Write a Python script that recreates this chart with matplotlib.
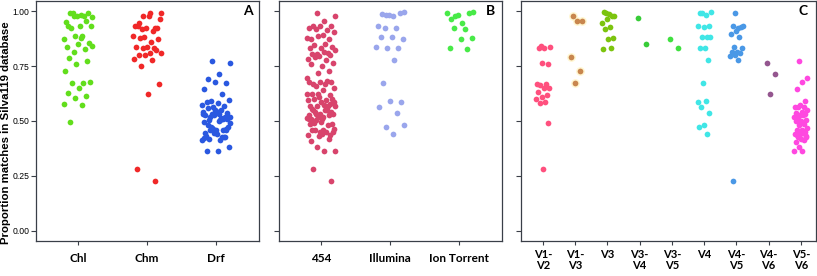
import numpy as np
import matplotlib
matplotlib.use("Agg")
import matplotlib.pyplot as plt

# ---------------- data ----------------
panel_a_cats = ["Chl", "Chm", "Drf"]
chl = [0.979, 0.971, 0.983, 0.989, 0.992, 0.977, 0.951, 0.979, 0.992, 0.932, 0.932, 0.932,
       0.956, 0.886, 0.875, 0.888, 0.921, 0.853, 0.848, 0.837, 0.828, 0.815, 0.839, 0.878,
       0.787, 0.775, 0.761, 0.726, 0.673, 0.673, 0.678, 0.652, 0.628, 0.612, 0.606, 0.578,
       0.574, 0.494]
chm = [0.979, 0.989, 0.989, 0.944, 0.924, 0.921, 0.932, 0.910, 0.916, 0.962, 0.979, 0.932,
       0.924, 0.883, 0.886, 0.860, 0.878, 0.872, 0.837, 0.837, 0.834, 0.834, 0.810, 0.807,
       0.799, 0.825, 0.799, 0.784, 0.777, 0.749, 0.670, 0.625, 0.280, 0.225]
drf = [0.772, 0.764, 0.713, 0.690, 0.675, 0.678, 0.644, 0.622, 0.590, 0.594, 0.582, 0.587,
       0.567, 0.564, 0.571, 0.506, 0.503, 0.511, 0.460, 0.445, 0.457, 0.470, 0.491, 0.533,
       0.561, 0.518, 0.526, 0.533, 0.515, 0.460, 0.473, 0.439, 0.430, 0.427, 0.465, 0.412,
       0.415, 0.419, 0.465, 0.450, 0.424, 0.427, 0.473, 0.381, 0.363, 0.363, 0.427, 0.445,
       0.541, 0.549, 0.518, 0.538, 0.544, 0.529, 0.511, 0.530, 0.520, 0.500, 0.480, 0.460,
       0.550, 0.495]

panel_b_cats = ["454", "Illumina", "Ion Torrent"]
p454 = [0.992, 0.979, 0.954, 0.933, 0.933, 0.933, 0.921, 0.913, 0.916, 0.903, 0.889, 0.875,
        0.872, 0.886, 0.878, 0.850, 0.845, 0.837, 0.830, 0.830, 0.810, 0.804, 0.825, 0.815,
        0.804, 0.799, 0.796, 0.784, 0.777, 0.790, 0.764, 0.751, 0.757, 0.728, 0.716, 0.696,
        0.670, 0.670, 0.678, 0.678, 0.678, 0.682, 0.658, 0.652, 0.640, 0.625, 0.617, 0.609,
        0.597, 0.594, 0.600, 0.600, 0.587, 0.568, 0.568, 0.568, 0.568, 0.571, 0.549, 0.541,
        0.533, 0.526, 0.552, 0.541, 0.533, 0.511, 0.511, 0.526, 0.518, 0.515, 0.549, 0.491,
        0.488, 0.495, 0.488, 0.480, 0.503, 0.465, 0.460, 0.460, 0.435, 0.430, 0.438, 0.450,
        0.460, 0.448, 0.439, 0.409, 0.419, 0.381, 0.363, 0.363, 0.280, 0.225, 0.450, 0.508,
        0.549, 0.533, 0.587, 0.518, 0.556, 0.579, 0.625, 0.625]
illumina = [0.982, 0.994, 0.979, 0.985, 0.989, 0.982, 0.933, 0.921, 0.921, 0.871, 0.880,
            0.883, 0.833, 0.833, 0.837, 0.777, 0.673, 0.587, 0.590, 0.564, 0.538, 0.473,
            0.483, 0.442]
ion_torrent = [0.977, 0.997, 0.947, 0.964, 0.989, 0.982, 0.992, 0.918, 0.921, 0.878, 0.872,
               0.833, 0.827]

panel_c_cats = ["V1-\nV2", "V1-\nV3", "V3", "V3-\nV4", "V3-\nV5", "V4", "V4-\nV5",
                "V4-\nV6", "V5-\nV6"]
v1_v2 = [0.840, 0.835, 0.830, 0.830, 0.760, 0.765, 0.670, 0.670, 0.665, 0.650, 0.650,
         0.630, 0.620, 0.610, 0.600, 0.585, 0.580, 0.490, 0.280]
v1_v3 = [0.979, 0.956, 0.956, 0.789, 0.728, 0.673]
v3 = [0.989, 0.979, 0.986, 0.997, 0.979, 0.964, 0.944, 0.926, 0.918, 0.878, 0.872, 0.827,
      0.833]
v3_v4 = [0.967, 0.850]
v3_v5 = [0.872, 0.834]
v4 = [0.989, 0.994, 0.982, 0.989, 0.933, 0.926, 0.933, 0.883, 0.883, 0.883, 0.833, 0.833,
      0.777, 0.673, 0.587, 0.590, 0.564, 0.538, 0.483, 0.473, 0.442]
v4_v5 = [0.992, 0.933, 0.921, 0.932, 0.929, 0.910, 0.895, 0.880, 0.837, 0.833, 0.812, 0.815,
         0.810, 0.799, 0.795, 0.777, 0.225]
v4_v6 = [0.764, 0.714, 0.625]
v5_v6 = [0.774, 0.696, 0.678, 0.644, 0.591, 0.571, 0.564, 0.564, 0.564, 0.549, 0.541, 0.536,
         0.533, 0.526, 0.518, 0.526, 0.518, 0.503, 0.500, 0.500, 0.488, 0.480, 0.468, 0.457,
         0.457, 0.450, 0.442, 0.439, 0.445, 0.427, 0.427, 0.419, 0.404, 0.412, 0.381, 0.363,
         0.363, 0.435, 0.432, 0.453]

y_ticks = [0.00, 0.25, 0.50, 0.75, 1.00]
y_label = "Proportion matches in Silva119 database"

# ---------------- style ----------------
W, H = 817, 276
fig = plt.figure(figsize=(W / 100, H / 100), dpi=100)

def fx(px):
    return px / W

def fy(px):
    return 1 - px / H

top_px, bot_px = 1, 241
ax_specs = [
    (36, 259, panel_a_cats, [chl, chm, drf], ["#62de1c", "#f02828", "#2a58e0"], "A", (-0.61, 2.62)),
    (279, 502, panel_b_cats, [p454, illumina, ion_torrent], ["#d8446c", "#9aa6ec", "#48ea48"], "B", (-0.61, 2.62)),
    (521, 816, panel_c_cats, [v1_v2, v1_v3, v3, v3_v4, v3_v5, v4, v4_v5, v4_v6, v5_v6],
     ["#ff507e", "#c8864e", "#7cc40e", "#38cc38", "#40e040", "#40e6e6", "#4a98e6", "#94568f", "#ff48e0"],
     "C", (-0.68, 8.47)),
]

spine_col = "#3a3f48"
cat_font = ["Lato", "DejaVu Sans"]

for i, (l, r, cats, groups, cols, letter, xlim) in enumerate(ax_specs):
    ax = fig.add_axes([fx(l), fy(bot_px), fx(r - l), fy(top_px) - fy(bot_px)])
    for k, (vals, c) in enumerate(zip(groups, cols)):
        n = len(vals)
        jit = ((np.arange(n) * 0.618034 + 0.37) % 1 - 0.5) * 0.42
        xs = k + jit
        if letter == "C" and k == 1:
            ax.scatter(xs, vals, s=40, color="#fff6cc", alpha=0.9, linewidths=0, zorder=2)
        ax.scatter(xs, vals, s=17, color=c, linewidths=0, zorder=3)
    ax.set_xlim(*xlim)
    ax.set_ylim(-0.0455, 1.0455)
    ax.set_xticks(range(len(cats)))
    two_line = letter == "C"
    ax.set_xticklabels(cats, fontfamily=cat_font, fontweight="bold",
                       fontsize=8 if two_line else 8.5, linespacing=1.05)
    ax.set_yticks(y_ticks)
    if i == 0:
        ax.set_yticklabels([f"{t:.2f}" for t in y_ticks], fontfamily="Liberation Sans",
                           fontsize=6.2)
        ax.set_ylabel(y_label, fontfamily="Liberation Sans", fontweight="bold", fontsize=8.2)
        ax.yaxis.set_label_coords(-0.11, 0.45)
    else:
        ax.set_yticklabels([])
    ax.tick_params(axis="y", length=3.5, width=0.8, color=spine_col, pad=1.2)
    ax.tick_params(axis="x", length=3, width=0.8, color=spine_col,
                   pad=2.5 if two_line else 5.5)
    for s in ax.spines.values():
        s.set_color(spine_col)
        s.set_linewidth(0.9)
    ax.text(0.97, 0.985, letter, transform=ax.transAxes, ha="right", va="top",
            fontfamily=["Lato", "DejaVu Sans"], fontweight="bold", fontsize=10)

fig.savefig("out.png", dpi=100)
